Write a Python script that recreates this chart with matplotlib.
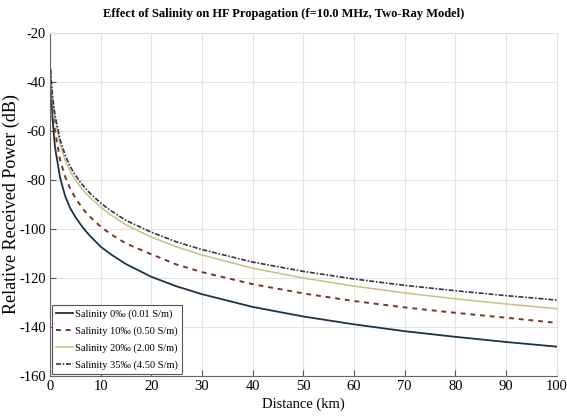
import numpy as np
import matplotlib
matplotlib.use("Agg")
import matplotlib.pyplot as plt

## values
distance_km = [0.1, 0.5, 1, 2, 3, 4, 5, 6, 7, 8, 10, 12, 15, 20, 25, 30,
               40, 50, 60, 70, 80, 90, 100]

power_0 = [-35, -54.5, -66.5, -79, -86.5, -91.5, -95, -98, -100.7, -103,
           -107.2, -110.3, -114.3, -119.5, -123.4, -126.6, -131.8, -135.7,
           -138.9, -141.7, -144.0, -146.1, -148.0]
power_10 = [-35, -49.5, -60, -71.7, -78.6, -83.5, -87.3, -90.3, -93, -95.2,
            -99, -102.1, -105.9, -110.3, -114.5, -117.6, -122.5, -126.3,
            -129.4, -132, -134.2, -136.2, -138.3]
power_20 = [-35, -46.5, -55, -65.5, -72, -76.5, -80, -82.8, -85.2, -87.3,
            -91, -94.2, -98.3, -103.3, -107.3, -110.6, -116, -120, -123.3,
            -126.1, -128.5, -130.6, -132.5]
power_35 = [-35, -45.5, -53.5, -63.5, -69.8, -74.5, -78, -80.9, -83.4, -85.6,
            -89.4, -92.5, -96.5, -101.3, -105.3, -108.4, -113.5, -117.3,
            -120.4, -123, -125.2, -127.2, -129]

labels = ["Salinity 0\u2030 (0.01 S/m)", "Salinity 10\u2030 (0.50 S/m)",
          "Salinity 20\u2030 (2.00 S/m)", "Salinity 35\u2030 (4.50 S/m)"]

plt.rcParams['font.family'] = ['Liberation Serif', 'DejaVu Serif']
plt.rcParams['axes.unicode_minus'] = False

fig = plt.figure(figsize=(5.67, 4.16), dpi=100)
ax = fig.add_axes([0.088, 0.096, 0.894, 0.825])

ax.plot(distance_km, power_0, color='#1c3247', lw=1.3, ls='-', label=labels[0])
ax.plot(distance_km, power_10, color='#7a3524', lw=1.4, ls=(0, (2.5, 2.5)), label=labels[1])
ax.plot(distance_km, power_20, color='#c9c27e', lw=1.1, ls='-', label=labels[2])
ax.plot(distance_km, power_35, color='#3e2f4c', lw=1.2, ls=(0, (3, 1, 1, 1)), label=labels[3])

ax.set_xlim(0, 100)
ax.set_ylim(-160, -20)
ax.set_xticks(np.arange(0, 101, 10))
ax.set_yticks(np.arange(-160, -19, 20))
ax.grid(True, color='#e3e3e3', lw=0.8)
ax.tick_params(direction='in', labelsize=10.5, length=4, color='#555555', pad=3)
for s in ['top', 'right']:
  ax.spines[s].set_color('#e0e0e0')
for s in ['left', 'bottom']:
  ax.spines[s].set_color('#666666')

fig.text(0.5, 0.966, "Effect of Salinity on HF Propagation (f=10.0 MHz, Two-Ray Model)",
         fontsize=9, fontweight='bold', ha='center', va='center')
ax.set_xlabel("Distance (km)", fontsize=10.5, labelpad=3)
ax.set_ylabel("Relative Received Power (dB)", fontsize=13)
ax.yaxis.set_label_coords(-0.058, 0.5)

leg = ax.legend(loc='lower left', fontsize=7.5, fancybox=False, framealpha=1,
                borderpad=0.4, labelspacing=0.7, handlelength=1.6,
                handletextpad=0.25, borderaxespad=0.2)
leg.get_frame().set_edgecolor('#555555')
leg.get_frame().set_linewidth(0.8)

fig.savefig("out.png", dpi=100)
